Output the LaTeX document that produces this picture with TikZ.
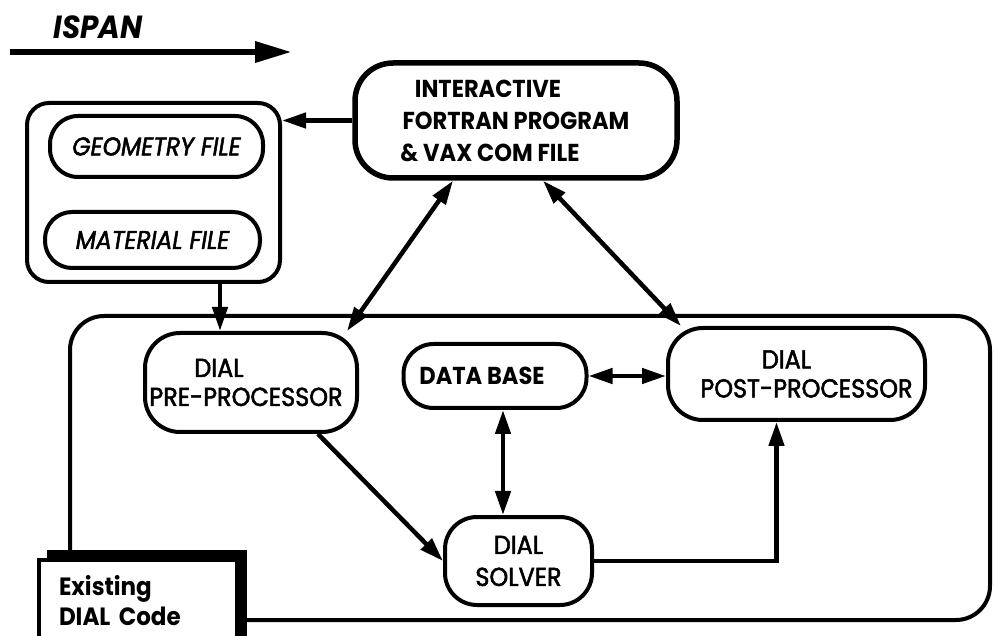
\documentclass[tikz,border=0pt]{standalone}
\usepackage{fontspec}
\setmainfont{Poppins}
\newfontfamily\pmed{Poppins}[FakeBold=2, FakeStretch=0.92]
\newfontfamily\pcond{Poppins}[FakeStretch=0.92]
\usetikzlibrary{arrows.meta}
\begin{document}
\begin{tikzpicture}[x=1pt,y=-1pt,
  box/.style={draw, line width=4pt, rounded corners=#1, align=center, inner sep=0pt},
  lab/.style={font=\fontsize{26}{29}\pmed},
  blab/.style={font=\fontsize{24.5}{32}\pcond\bfseries},
  ilab/.style={font=\fontsize{25.5}{29}\pmed\itshape},
  tipa/.tip={Triangle[length=24pt,width=15pt]},
  arr/.style={line width=4.5pt, -tipa},
  darr/.style={line width=4.5pt, tipa-tipa}]
\clip (0,0) rectangle (997,636);
% title
\node[font=\fontsize{32}{32}\pcond\bfseries\itshape, anchor=west] (ispan) at (50,27) {ISPAN};
\coordinate (ia) at (10,52);
\coordinate (ib) at (292,52);
\draw[line width=6.5pt, -{Triangle[length=37pt,width=20pt]}] (ia) -- (ib);
% main box
\node[box=34, minimum width=920pt, minimum height=304pt] (big) at (530,468) {};
% group of files
\node[box=22, minimum width=253pt, minimum height=179pt] (grp) at (153.5,192.5) {};
\node[box=28, ilab, minimum width=213pt, minimum height=61pt] (geo) at (156.5,146.5) {GEOMETRY FILE};
\node[box=27, ilab, minimum width=215pt, minimum height=56pt] (mat) at (152.5,240) {MATERIAL FILE};
% interactive
\node[box=38, blab, line width=5.5pt, minimum width=322pt, minimum height=115pt] (inter) at (516,120.5)
  {INTERACTIVE\hspace*{56pt}\\FORTRAN PROGRAM\hspace*{26pt}\\\& VAX COM FILE\hspace*{52pt}};
% inner nodes
\node[box=35, lab, minimum width=212pt, minimum height=99pt] (pre) at (251,382.5)
  {DIAL\hspace*{64pt}\\PRE-PROCESSOR\hspace*{10pt}};
\node[box=35, lab, minimum width=257pt, minimum height=92pt] (post) at (796.5,374)
  {DIAL\hspace*{20pt}\\\hspace*{20pt}POST-PROCESSOR};
\node[box=30, blab, minimum width=183pt, minimum height=64pt] (db) at (495,376)
  {DATA BASE\hspace*{26pt}};
\node[box=32, minimum width=147pt, minimum height=88pt, font=\fontsize{26}{32}\pmed] (sol) at (518.5,561)
  {DIAL\\SOLVER};
% connectors
\draw[arr] (inter.west) -- (grp.east |- inter.west);
\draw[arr] ([xshift=66.5pt]grp.south) -- ([xshift=-31pt]pre.north);
\draw[darr] ([xshift=-63pt]inter.south) -- ([xshift=-12pt]pre.north east);
\draw[darr] ([xshift=27pt]inter.south) -- ([xshift=15pt]post.north west);
\draw[darr] (db.east) -- (db.east -| post.west);
\draw[darr] ([xshift=8pt]db.south) -- ([xshift=-15.5pt]sol.north);
\draw[arr] ([xshift=67pt]pre.south) -- (sol.west);
\draw[arr] (sol.east) -| ([xshift=-20pt]post.south);
% existing code box
\fill (47,550) rectangle (247,650);
\node[draw, fill=white, line width=4pt, anchor=north west, text width=158pt, inner xsep=20pt, inner ysep=0pt,
  minimum height=82pt, align=left, font=\fontsize{25}{30}\pcond\bfseries] (exist) at (37,558)
  {Existing\\DIAL Code};
\end{tikzpicture}
\end{document}
